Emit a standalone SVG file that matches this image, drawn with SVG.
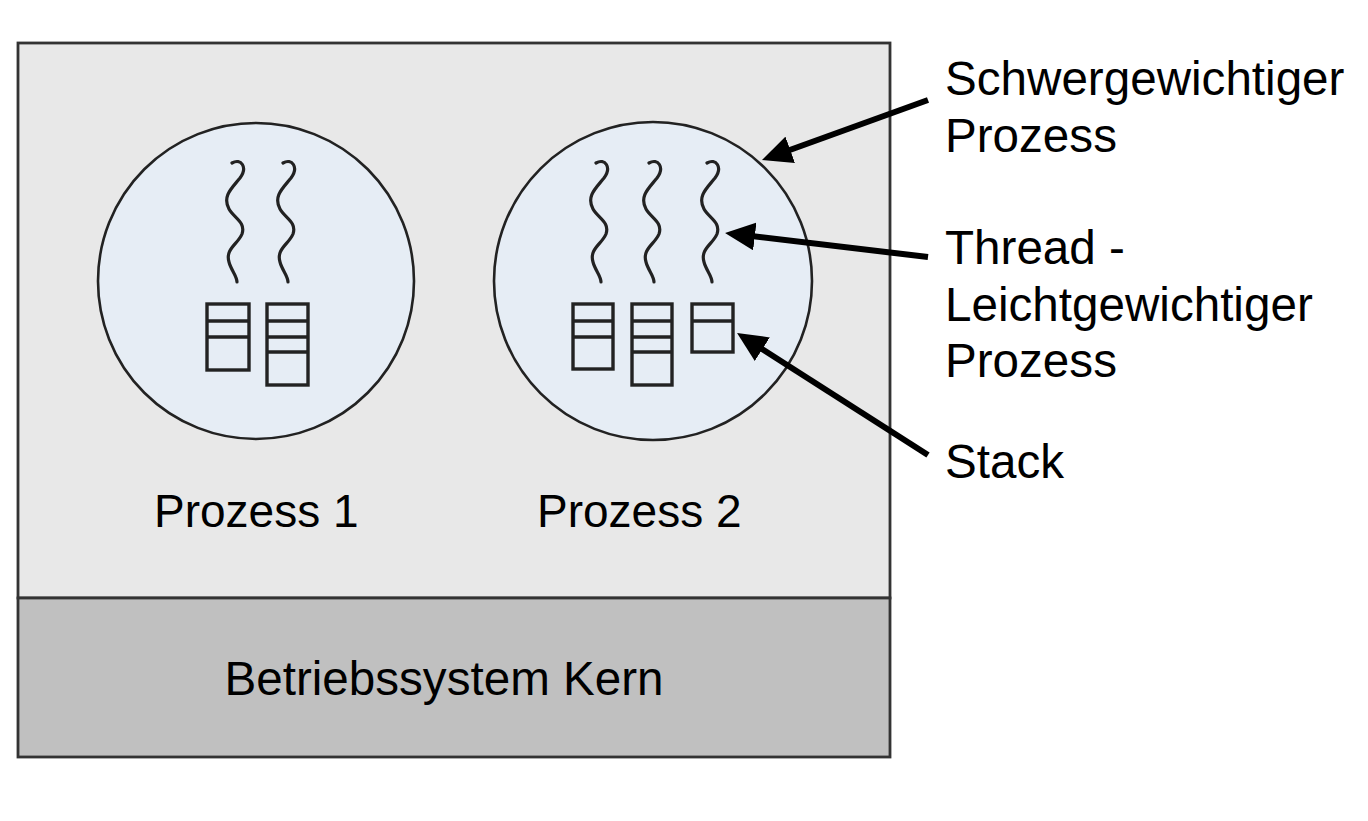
<svg xmlns="http://www.w3.org/2000/svg" xmlns:xlink="http://www.w3.org/1999/xlink" width="1368" height="821" viewBox="0 0 1368 821">
<style>
.lbl{font-family:"Liberation Sans",Arial,sans-serif;fill:#000}
.thr{fill:none;stroke:#222;stroke-width:3.2;stroke-linecap:round}
.stk{fill:none;stroke:#222;stroke-width:3.4}
.proc{fill:#e6edf5;stroke:#222;stroke-width:2.6}
.arr{stroke:#000;stroke-width:6;fill:none}
</style>
<defs>
<marker id="ah" viewBox="0 0 30 28" markerWidth="30" markerHeight="28" markerUnits="userSpaceOnUse" refX="10" refY="14" orient="auto">
<path d="M0,0 L30,14 L0,28 Z" fill="#000"/>
</marker>
<path id="thread" d="M-5,163 C4,158 11,167 3,178 C-5,188 -15,196 -8,209 C-3,218 9,222 5,234 C1,244 -12,249 -8,262 C-6,270 0,276 0,282"/>
</defs>
<rect width="1368" height="821" fill="#fff"/>
<g id="user-space">
<rect x="18" y="43" width="872" height="555" fill="#e8e8e8" stroke="#333" stroke-width="2.8"/>
</g>
<g id="kernel">
<rect x="18" y="598" width="872" height="159" fill="#c0c0c0" stroke="#333" stroke-width="2.8"/>
<text class="lbl" x="444" y="695" font-size="47.6" text-anchor="middle">Betriebssystem Kern</text>
</g>
<g id="process1">
<circle class="proc" cx="256" cy="281" r="158"/>
<use href="#thread" class="thr" transform="translate(237,0)"/>
<use href="#thread" class="thr" transform="translate(288,0)"/>
<rect class="stk" x="207" y="304" width="42" height="66"/>
<line class="stk" x1="207" y1="321" x2="249" y2="321"/>
<line class="stk" x1="207" y1="337" x2="249" y2="337"/>
<rect class="stk" x="267" y="304" width="41" height="81"/>
<line class="stk" x1="267" y1="321" x2="308" y2="321"/>
<line class="stk" x1="267" y1="337" x2="308" y2="337"/>
<line class="stk" x1="267" y1="352" x2="308" y2="352"/>
<text class="lbl" x="154" y="527" font-size="46">Prozess 1</text>
</g>
<g id="process2">
<circle class="proc" cx="653" cy="281" r="159"/>
<use href="#thread" class="thr" transform="translate(601,0)"/>
<use href="#thread" class="thr" transform="translate(654,0)"/>
<use href="#thread" class="thr" transform="translate(712,0)"/>
<rect class="stk" x="573" y="304" width="40" height="65"/>
<line class="stk" x1="573" y1="321" x2="613" y2="321"/>
<line class="stk" x1="573" y1="337" x2="613" y2="337"/>
<rect class="stk" x="632" y="304" width="40" height="81"/>
<line class="stk" x1="632" y1="321" x2="672" y2="321"/>
<line class="stk" x1="632" y1="337" x2="672" y2="337"/>
<line class="stk" x1="632" y1="352" x2="672" y2="352"/>
<rect class="stk" x="692" y="304" width="41" height="48"/>
<line class="stk" x1="692" y1="321" x2="733" y2="321"/>
<text class="lbl" x="537" y="527" font-size="46">Prozess 2</text>
</g>
<g id="label-heavy">
<text class="lbl" x="945" y="95" font-size="47.6">Schwergewichtiger</text>
<text class="lbl" x="945" y="152" font-size="47.6">Prozess</text>
</g>
<g id="label-thread">
<text class="lbl" x="945" y="264" font-size="47.6">Thread -</text>
<text class="lbl" x="945" y="321" font-size="47.6">Leichtgewichtiger</text>
<text class="lbl" x="945" y="377" font-size="47.6">Prozess</text>
</g>
<g id="label-stack">
<text class="lbl" x="945" y="478" font-size="47.6">Stack</text>
</g>
<g id="connectors">
<line class="arr" x1="928" y1="100" x2="780.8" y2="153.2" marker-end="url(#ah)"/>
<line class="arr" x1="928" y1="257" x2="744.9" y2="235.3" marker-end="url(#ah)"/>
<line class="arr" x1="928" y1="455" x2="753.9" y2="343.8" marker-end="url(#ah)"/>
</g>
</svg>
